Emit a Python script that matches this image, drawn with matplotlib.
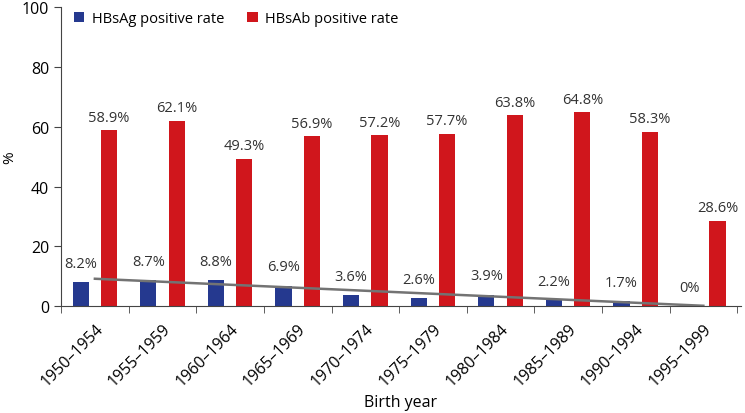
import matplotlib
matplotlib.use("Agg")
import matplotlib.pyplot as plt
import numpy as np

plt.rcParams["font.family"] = ["Open Sans", "DejaVu Sans"]

birth_years = ["1950–1954", "1955–1959", "1960–1964", "1965–1969", "1970–1974",
               "1975–1979", "1980–1984", "1985–1989", "1990–1994", "1995–1999"]
hbsag_rate = [8.2, 8.7, 8.8, 6.9, 3.6, 2.6, 3.9, 2.2, 1.7, 0.0]
hbsab_rate = [58.9, 62.1, 49.3, 56.9, 57.2, 57.7, 63.8, 64.8, 58.3, 28.6]

BLUE = "#25398f"
RED = "#d0161c"

fig = plt.figure(figsize=(7.45, 4.14), dpi=100)
ax = fig.add_axes([0.082, 0.258, 0.912, 0.722])

x = np.arange(len(birth_years))
w = 0.24
off = 0.21
ax.bar(x - off, hbsag_rate, w, color=BLUE, label="HBsAg positive rate", zorder=2)
ax.bar(x + off, hbsab_rate, w, color=RED, label="HBsAb positive rate", zorder=2)

# linear trend of HBsAg
k, b = np.polyfit(x, hbsag_rate, 1)
ax.plot([x[0], x[-1]], [k * x[0] + b, k * x[-1] + b], color="#737373", lw=1.8, zorder=3)

for xi, v in zip(x, hbsag_rate):
    txt = "0%" if v == 0 else f"{v:.1f}%"
    ax.annotate(txt, (xi - off, v), xytext=(0, 8), textcoords="offset points",
                ha="center", va="bottom", fontsize=10.5, color="#333333")
for xi, v in zip(x, hbsab_rate):
    ax.annotate(f"{v:.1f}%", (xi + off, v), xytext=(0, 4), textcoords="offset points",
                ha="center", va="bottom", fontsize=10.5, color="#333333")

ax.set_xlim(-0.5, 9.55)
ax.set_ylim(0, 100)
ax.set_yticks([0, 20, 40, 60, 80, 100])
ax.set_xticks(x)
ax.set_xticklabels(birth_years, rotation=45, ha="right", rotation_mode="anchor", fontsize=11.5)
ax.tick_params(axis="x", which="major", length=0, pad=10)
ax.set_xticks(np.arange(-0.5, 10, 1), minor=True)
ax.tick_params(axis="x", which="minor", length=5, color="#444444")
ax.tick_params(axis="y", length=5, labelsize=11.5, color="#444444")

for s in ("top", "right"):
    ax.spines[s].set_visible(False)
for s in ("left", "bottom"):
    ax.spines[s].set_color("#444444")

ax.set_xlabel("Birth year", fontsize=11.5, labelpad=4)
ax.set_ylabel("%", fontsize=11)
ax.yaxis.set_label_coords(-0.064, 0.5)

ax.legend(loc="upper left", ncol=2, frameon=False, fontsize=10.5, handlelength=0.7,
          handleheight=0.7, handletextpad=0.5, columnspacing=1.6,
          bbox_to_anchor=(0.0, 1.03))

fig.savefig("out.png", dpi=100)
